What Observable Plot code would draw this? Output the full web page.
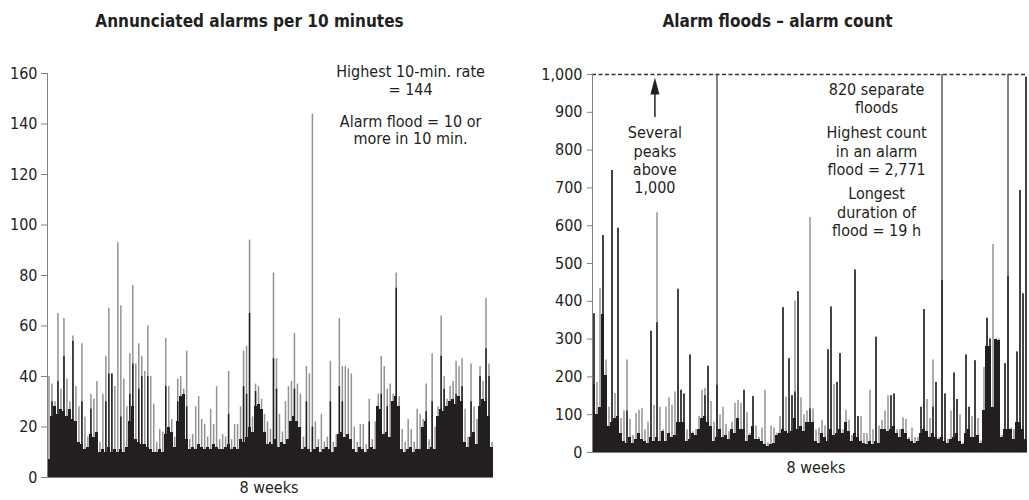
<!DOCTYPE html>
<html>
<head>
<meta charset="utf-8">
<script src="https://cdn.jsdelivr.net/npm/d3@7"></script>
<script src="https://cdn.jsdelivr.net/npm/@observablehq/plot@0.6"></script>
<style>
  html, body { margin: 0; padding: 0; background: #fff; }
  #wrap { position: relative; width: 1029px; height: 500px; overflow: hidden;
          font-family: "Liberation Sans Narrow", "Arial Narrow", "DejaVu Sans Condensed", sans-serif; color: #231f20; }
  .lbl { position: absolute; white-space: nowrap; transform: translateX(-50%); font-size: 16px; line-height: 17px; }
  .ttl { font-weight: bold; font-size: 17px; }
  #left { position: absolute; left: 0; top: 0; }
  #right { position: absolute; left: 510px; top: 0; }
</style>
</head>
<body>
<div id="wrap">
  <div id="left"></div>
  <div id="right"></div>
  <div class="lbl ttl" style="left:249.5px; top:13px">Annunciated alarms per 10 minutes</div>
  <div class="lbl ttl" style="left:777.5px; top:13px">Alarm floods – alarm count</div>
  <div class="lbl" style="left:269px; top:479px">8 weeks</div>
  <div class="lbl" style="left:816px; top:459px">8 weeks</div>
</div>
<script>
// ---------- Left panel: annunciated alarms per 10 minutes (binned, 8 weeks) ----------
const leftBody = [7,24,28,25,27,26,24,27,23,22,14,13,11,12,17,16,18,10,11,10,12,10,11,10,11,10,12,22,28,15,
  14,13,13,12,11,10,10,11,10,17,20,18,12,22,32,33,15,11,12,11,13,12,11,12,11,13,12,11,11,12,
  13,11,12,11,15,14,16,20,18,28,29,27,18,13,14,13,15,12,14,13,15,22,24,22,20,11,12,11,10,11,
  12,10,11,12,11,10,12,17,18,16,17,15,11,10,12,11,10,11,12,11,28,27,17,18,16,30,32,28,11,10,
  11,12,10,11,11,20,22,11,12,11,24,27,26,28,30,31,29,32,30,14,12,16,18,13,28,31,30,24,12];
const leftPeak = [40,37,30,65,35,63,39,30,56,36,28,53,24,16,33,31,38,14,33,48,67,41,36,93,68,39,28,49,76,45,
  53,48,42,60,40,29,14,19,18,55,36,23,16,39,40,35,50,15,17,28,32,23,21,16,27,21,36,15,17,16,
  42,15,21,21,28,50,52,94,24,37,36,31,25,22,19,81,47,25,18,30,36,38,57,37,33,16,44,41,144,22,
  15,25,14,16,46,14,17,63,44,44,43,41,20,14,21,21,13,31,15,22,33,48,44,35,37,33,81,32,19,14,
  23,19,14,27,25,23,37,15,49,20,28,64,40,31,36,38,46,44,47,27,16,45,28,23,44,38,71,45,14];
const leftDarkBin = [1,3,5,8,11,14,19,20,21,24,27,28,30,31,33,39,43,46,60,65,66,67,69,75,76,82,86,88,94,97,
  98,107,111,113,116,126,128,131,132,136,138,141,144,146,147];
const leftDarkVal = [30,38,48,54,30,27,30,41,41,24,33,45,35,40,40,36,30,28,25,36,33,65,34,47,35,35,30,20,30,36,
  30,22,33,28,75,26,30,48,35,33,36,30,40,51,40];
const leftTicks = [0, 20, 40, 60, 80, 100, 120, 140, 160];
const leftNotes = ["Highest 10-min. rate\n= 144", "Alarm flood = 10 or\nmore in 10 min."];
const leftNoteX = [121.3, 121.3];
const leftNoteY = [163.6, 143.8];

// ---------- Right panel: alarm floods - alarm count ----------
const rightBody = [180,100,120,365,205,70,80,90,95,50,30,25,40,25,35,50,35,30,25,40,30,40,30,55,30,50,40,45,80,80,
  80,30,35,50,45,60,90,95,80,70,30,40,60,40,45,35,60,50,90,60,60,30,45,70,35,35,30,20,15,20,
  25,45,50,60,55,50,55,90,60,70,55,80,80,80,30,25,50,40,30,60,45,50,60,50,80,55,30,50,40,30,
  25,20,30,20,30,25,60,60,55,60,70,50,40,60,50,35,30,25,30,50,60,55,40,50,40,35,40,30,25,35,
  40,50,30,20,50,60,40,40,45,25,110,280,280,120,300,295,40,60,60,60,35,80,80,60,35];
const rightPeak = [367,185,433,574,245,120,746,156,593,90,110,245,88,45,103,112,116,60,80,321,125,634,120,60,120,145,125,160,432,165,
  155,60,258,55,60,95,165,170,228,135,80,1200,100,120,75,55,80,130,138,130,165,105,50,148,70,40,65,165,25,70,
  65,50,95,383,147,248,150,400,425,145,100,110,622,115,60,65,85,70,272,385,180,185,262,60,112,85,45,483,95,95,
  50,50,165,60,305,70,85,110,150,150,155,60,60,92,88,40,65,40,40,120,378,140,90,245,185,40,1300,155,35,110,
  210,140,100,25,258,120,95,243,90,30,225,355,300,550,300,300,45,235,1150,65,60,266,693,420,993];
const rightDarkBin = [0,3,6,8,11,19,21,28,29,30,32,37,38,41,50,53,63,65,66,67,68,72,78,79,81,82,87,88,94,99,
  100,109,110,113,114,116,117,120,121,124,125,127,131,132,137,138,141,142,143,144];
const rightDarkVal = [367,574,746,593,110,321,343,432,165,155,258,150,228,178,165,148,383,248,150,160,425,115,272,385,185,262,483,95,305,150,
  155,120,378,120,185,455,155,210,140,258,120,243,355,300,235,465,266,693,420,993];
const rightTicks = [0,100,200,300,400,500,600,700,800,900,1000];
const floodLimit = [1000];
const rightNotes = ["820 separate\nfloods", "Highest count\nin an alarm\nflood = 2,771", "Longest\nduration of\nflood = 19 h", "Several\npeaks\nabove\n1,000"];
const rightNoteX = [94.7, 94.7, 94.7, 20.8];
const rightNoteY = [981, 865, 704, 865];
const arrowX = [20.8];
const arrowFrom = [886];
const arrowTip = [992];
const arrowBase = [947];

const FONT = '"Liberation Sans Narrow", "Arial Narrow", "DejaVu Sans Condensed", sans-serif';
const INK = "#231f20";
const GREY = "#939393";

const idx = (arr) => arr.map((v, i) => ({i, v}));

const leftPlot = Plot.plot({
  width: 510, height: 500,
  marginLeft: 47, marginRight: 17, marginTop: 73, marginBottom: 23,
  style: {fontFamily: FONT, fontSize: "16px", color: INK, background: "transparent"},
  x: {domain: [0, leftBody.length], axis: null},
  y: {domain: [0, 160], axis: null},
  marks: [
    Plot.ruleX(idx(leftPeak), {x: d => d.i + 0.5, y1: 0, y2: d => d.v, stroke: GREY, strokeWidth: 1.5}),
    Plot.rect(idx(leftBody), {x1: d => d.i, x2: d => d.i + 1, y1: 0, y2: d => d.v, fill: INK, shapeRendering: "crispEdges"}),
    Plot.ruleX(leftDarkBin.map((b, k) => ({b, v: leftDarkVal[k]})), {x: d => d.b + 0.5, y1: 0, y2: d => d.v, stroke: INK, strokeWidth: 1.5}),
    Plot.ruleX([0], {stroke: "#808080", strokeWidth: 1}),
    Plot.ruleY([0], {stroke: "#808080", strokeWidth: 1}),
    Plot.axisY({ticks: leftTicks, tickSize: 6, tickPadding: 4, stroke: "#808080", fill: INK, label: null, fontSize: 16}),
    Plot.text(leftNotes.map((t, k) => ({t, x: leftNoteX[k], y: leftNoteY[k]})), {x: "x", y: "y", text: "t", lineAnchor: "top", textAnchor: "middle", fontSize: 16, lineHeight: 1.1, fill: INK})
  ]
});
document.getElementById("left").appendChild(leftPlot);

const arrowHead = {
  draw(ctx) {
    ctx.moveTo(0, 0);
    ctx.lineTo(-4.5, 17);
    ctx.lineTo(4.5, 17);
    ctx.closePath();
  }
};

const rightPlot = Plot.plot({
  width: 519, height: 500,
  marginLeft: 82, marginRight: 2, marginTop: 74, marginBottom: 48,
  style: {fontFamily: FONT, fontSize: "16px", color: INK, background: "transparent"},
  x: {domain: [0, rightBody.length], axis: null},
  y: {domain: [0, 1000], axis: null},
  marks: [
    Plot.ruleX(idx(rightPeak), {x: d => d.i + 0.5, y1: 0, y2: d => d.v, stroke: d => d.v > 1000 ? "#5a5a5a" : GREY, strokeWidth: 1.5, clip: true}),
    Plot.rect(idx(rightBody), {x1: d => d.i, x2: d => d.i + 1, y1: 0, y2: d => d.v, fill: INK, shapeRendering: "crispEdges"}),
    Plot.ruleX(rightDarkBin.map((b, k) => ({b, v: rightDarkVal[k]})), {x: d => d.b + 0.5, y1: 0, y2: d => d.v, stroke: INK, strokeWidth: 1.5, clip: true}),
    Plot.ruleY(floodLimit, {stroke: "#333", strokeWidth: 1.3, strokeDasharray: "4,2.5"}),
    Plot.ruleX([0], {y1: 0, y2: 1000, stroke: "#808080", strokeWidth: 1}),
    Plot.ruleY([0], {stroke: "#808080", strokeWidth: 1}),
    Plot.axisY({ticks: rightTicks, tickFormat: d3.format(","), tickSize: 5, tickPadding: 5, stroke: "#808080", fill: INK, label: null, fontSize: 16}),
    Plot.ruleX(arrowX.map((x, k) => ({x, y1: arrowFrom[k], y2: arrowBase[k]})), {x: "x", y1: "y1", y2: "y2", stroke: INK, strokeWidth: 1.5}),
    Plot.dot(arrowX.map((x, k) => ({x, y: arrowTip[k]})), {x: "x", y: "y", symbol: arrowHead, fill: INK, stroke: "none"}),
    Plot.text(rightNotes.map((t, k) => ({t, x: rightNoteX[k], y: rightNoteY[k]})), {x: "x", y: "y", text: "t", lineAnchor: "top", textAnchor: "middle", fontSize: 16, lineHeight: 1.14, fill: INK})
  ]
});
document.getElementById("right").appendChild(rightPlot);
</script>
</body>
</html>
